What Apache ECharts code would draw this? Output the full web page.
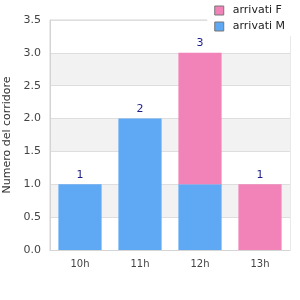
<!DOCTYPE html>
<html>
<head>
<meta charset="utf-8">
<script src="https://cdn.jsdelivr.net/npm/echarts@6/dist/echarts.min.js"></script>
<style>
  html, body { margin: 0; padding: 0; background: #fff; }
  #chart { width: 300px; height: 300px; }
</style>
</head>
<body>
<div id="chart"></div>
<script>
const categories = ['10h', '11h', '12h', '13h']
const arrivatiM = [1, 2, 1, 0]
const arrivatiF = [0, 0, 2, 1]
const totals = categories.map((c, i) => arrivatiM[i] + arrivatiF[i])

const chart = echarts.init(document.getElementById('chart'))

chart.setOption({
  animation: false,
  textStyle: { fontFamily: 'DejaVu Sans' },
  grid: {
    left: 50,
    right: 10,
    top: 20,
    bottom: 50,
    outerBoundsMode: 'none',
    containLabel: false,
    show: true,
    borderColor: '#d4d4d4',
    borderWidth: 1
  },
  legend: {
    orient: 'vertical',
    right: 0,
    top: 0,
    padding: [4, 15, 3, 7],
    itemGap: 3,
    itemWidth: 9,
    itemHeight: 9,
    icon: 'rect',
    backgroundColor: '#fff',
    itemStyle: { borderColor: '#777', borderWidth: 1 },
    textStyle: { fontSize: 11, color: '#222', padding: [0, 0, 0, 4], lineHeight: 13 },
    data: ['arrivati F', 'arrivati M']
  },
  xAxis: {
    type: 'category',
    data: categories,
    axisLine: { lineStyle: { color: '#d4d4d4' } },
    axisTick: { show: false },
    axisLabel: { color: '#444', fontSize: 10, margin: 9 }
  },
  yAxis: {
    type: 'value',
    min: 0,
    max: 3.5,
    interval: 0.5,
    name: 'Numero del corridore',
    nameLocation: 'middle',
    nameGap: 36,
    nameTextStyle: { color: '#333', fontSize: 11 },
    axisLine: { show: true, lineStyle: { color: '#d4d4d4' } },
    axisTick: { show: false },
    axisLabel: { color: '#444', fontSize: 11, margin: 9, formatter: v => v.toFixed(1) },
    splitLine: { lineStyle: { color: '#dedede' } },
    splitArea: { show: true, areaStyle: { color: ['#fff', '#f2f2f2'] } }
  },
  series: [
    {
      name: 'arrivati M',
      type: 'bar',
      stack: 'tot',
      barWidth: '72%',
      itemStyle: { color: '#5fa8f4' },
      data: arrivatiM
    },
    {
      name: 'arrivati F',
      type: 'bar',
      stack: 'tot',
      itemStyle: { color: '#f283b8' },
      data: arrivatiF
    },
    {
      name: 'totale',
      type: 'bar',
      stack: 'tot',
      itemStyle: { color: 'transparent' },
      label: {
        show: true,
        position: 'top',
        distance: 4,
        color: '#1e1e8a',
        fontSize: 11,
        formatter: p => totals[p.dataIndex]
      },
      data: totals.map(() => 0)
    }
  ]
})
</script>
</body>
</html>
